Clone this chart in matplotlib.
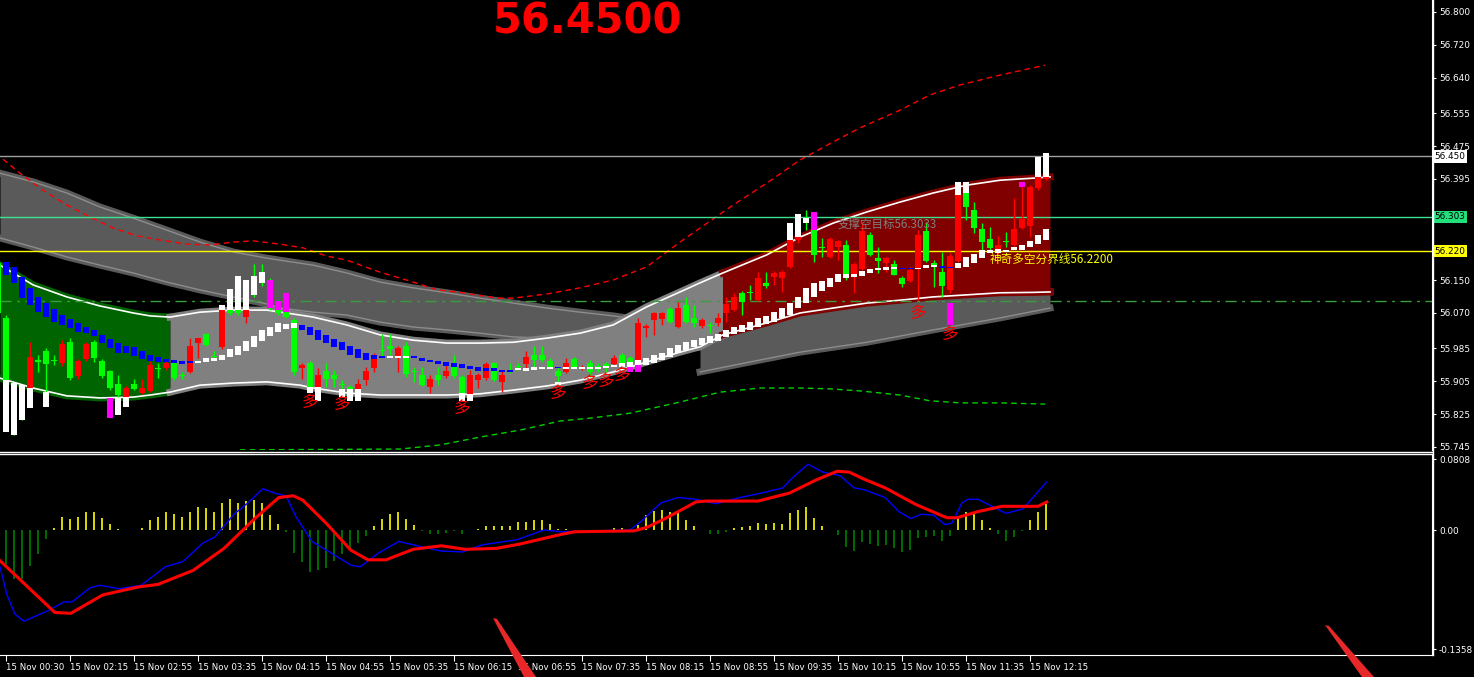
import matplotlib
matplotlib.use("Agg")
import matplotlib.pyplot as plt
import numpy as np
from matplotlib.lines import Line2D
from matplotlib.patches import Polygon

plt.rcParams['font.family'] = ['Noto Sans CJK SC', 'DejaVu Sans']

W, H = 1474, 677

# ---- price candles (5 min bars, index -1 .. 130) ----
bars = list(range(-1, 131))
opens = [56.191, 56.058, 55.888, 55.883, 55.888, 55.956, 55.978, 55.956, 55.949, 55.999,
         55.917, 55.958, 55.999, 55.954, 55.929, 55.898, 55.866, 55.898, 55.876, 55.881,
         55.937, 55.937, 55.949, 55.920, 55.927, 55.997, 56.019, 55.966, 55.988, 56.077,
         56.077, 56.060, 56.126, 56.162, 56.101, 56.077, 56.072, 56.053, 55.937, 55.949,
         55.891, 55.929, 55.920, 55.898, 55.891, 55.886, 55.907, 55.937, 55.980, 55.990,
         55.963, 55.990, 55.929, 55.920, 55.891, 55.920, 55.917, 55.939, 55.915, 55.874,
         55.907, 55.912, 55.949, 55.903, 55.932, 55.941, 55.946, 55.968, 55.968, 55.954,
         55.929, 55.927, 55.958, 55.934, 55.949, 55.941, 55.946, 55.946, 55.968, 55.961,
         55.951, 56.034, 56.053, 56.055, 56.080, 56.036, 56.089, 56.058, 56.038, 56.041,
         56.046, 56.070, 56.077, 56.119, 56.121, 56.101, 56.143, 56.157, 56.155, 56.182,
         56.247, 56.295, 56.271, 56.230, 56.206, 56.230, 56.235, 56.157, 56.177, 56.259,
         56.203, 56.191, 56.189, 56.155, 56.148, 56.179, 56.269, 56.191, 56.169, 56.126,
         56.196, 56.361, 56.320, 56.274, 56.249, 56.215, 56.245, 56.235, 56.276, 56.281,
         56.373, 56.395]
highs = [56.203, 56.065, 55.900, 55.895, 55.999, 55.968, 55.985, 55.968, 56.004, 56.009,
         55.958, 55.999, 56.004, 55.958, 55.932, 55.920, 55.893, 55.910, 55.910, 55.954,
         55.949, 55.954, 55.951, 55.927, 56.009, 56.009, 56.021, 55.978, 56.089, 56.082,
         56.082, 56.082, 56.189, 56.189, 56.155, 56.101, 56.119, 56.058, 55.949, 55.954,
         55.937, 55.949, 55.932, 55.907, 55.895, 55.910, 55.939, 55.973, 56.019, 56.019,
         55.990, 55.999, 55.939, 55.939, 55.920, 55.939, 55.951, 55.968, 55.920, 55.932,
         55.924, 55.951, 55.951, 55.929, 55.949, 55.949, 55.978, 55.990, 55.990, 55.961,
         55.939, 55.961, 55.963, 55.944, 55.956, 55.949, 55.951, 55.968, 55.973, 55.966,
         56.058, 56.043, 56.072, 56.072, 56.085, 56.097, 56.109, 56.089, 56.058, 56.048,
         56.070, 56.109, 56.119, 56.123, 56.138, 56.169, 56.169, 56.172, 56.174, 56.288,
         56.310, 56.320, 56.315, 56.252, 56.254, 56.247, 56.247, 56.194, 56.291, 56.266,
         56.230, 56.206, 56.198, 56.160, 56.182, 56.271, 56.291, 56.198, 56.218, 56.215,
         56.388, 56.388, 56.339, 56.288, 56.279, 56.257, 56.266, 56.349, 56.376, 56.380,
         56.448, 56.458]
lows = [56.058, 55.903, 55.774, 55.810, 55.878, 55.927, 55.878, 55.944, 55.941, 55.907,
        55.910, 55.954, 55.951, 55.912, 55.883, 55.866, 55.861, 55.883, 55.874, 55.878,
        55.912, 55.932, 55.907, 55.910, 55.924, 55.961, 55.990, 55.961, 55.983, 56.065,
        56.065, 56.046, 56.109, 56.136, 56.077, 56.065, 56.058, 55.920, 55.910, 55.886,
        55.886, 55.891, 55.891, 55.886, 55.883, 55.883, 55.895, 55.927, 55.963, 55.968,
        55.927, 55.915, 55.903, 55.893, 55.876, 55.895, 55.912, 55.912, 55.874, 55.871,
        55.888, 55.907, 55.905, 55.878, 55.924, 55.932, 55.937, 55.937, 55.951, 55.939,
        55.903, 55.924, 55.937, 55.932, 55.915, 55.927, 55.927, 55.944, 55.944, 55.941,
        55.949, 56.012, 56.017, 56.041, 56.046, 56.034, 56.046, 56.036, 56.034, 56.021,
        56.038, 56.048, 56.075, 56.065, 56.101, 56.099, 56.131, 56.138, 56.121, 56.179,
        56.240, 56.271, 56.194, 56.206, 56.203, 56.198, 56.150, 56.119, 56.174, 56.208,
        56.167, 56.169, 56.162, 56.133, 56.145, 56.101, 56.194, 56.133, 56.109, 56.119,
        56.194, 56.295, 56.264, 56.218, 56.218, 56.213, 56.230, 56.232, 56.274, 56.254,
        56.368, 56.392]
closes = [56.070, 55.907, 55.786, 55.823, 55.963, 55.951, 55.946, 55.954, 55.995, 55.912,
          55.954, 55.995, 55.961, 55.917, 55.888, 55.871, 55.888, 55.886, 55.888, 55.944,
          55.934, 55.949, 55.912, 55.917, 55.990, 56.009, 55.992, 55.963, 56.077, 56.070,
          56.070, 56.077, 56.114, 56.150, 56.089, 56.070, 56.060, 55.927, 55.944, 55.891,
          55.920, 55.910, 55.910, 55.895, 55.886, 55.898, 55.929, 55.968, 55.978, 55.983,
          55.985, 55.922, 55.927, 55.895, 55.910, 55.907, 55.929, 55.917, 55.876, 55.920,
          55.920, 55.946, 55.907, 55.920, 55.929, 55.939, 55.963, 55.956, 55.956, 55.939,
          55.917, 55.949, 55.939, 55.939, 55.927, 55.939, 55.939, 55.961, 55.946, 55.944,
          56.046, 56.038, 56.070, 56.070, 56.048, 56.082, 56.048, 56.046, 56.053, 56.038,
          56.058, 56.092, 56.109, 56.097, 56.119, 56.155, 56.136, 56.167, 56.169, 56.247,
          56.254, 56.291, 56.211, 56.228, 56.249, 56.245, 56.155, 56.189, 56.269, 56.211,
          56.196, 56.203, 56.162, 56.140, 56.174, 56.259, 56.196, 56.182, 56.136, 56.208,
          56.356, 56.327, 56.276, 56.242, 56.228, 56.235, 56.242, 56.274, 56.298, 56.376,
          56.400, 56.400]

# candle parts drawn white / magenta outside the channel
ext_bar = [0, 1, 2, 3, 5, 13, 14, 15, 27, 28, 29, 30, 31, 32, 33, 34, 35, 38, 39, 42, 43, 44,
           57, 58, 69, 78, 79, 98, 99, 100, 101, 118, 119, 120, 127, 129, 130]
ext_lo = [55.781, 55.774, 55.810, 55.840, 55.842, 55.815, 55.823, 55.842, 56.077, 56.077,
          56.077, 56.077, 56.114, 56.143, 56.082, 56.077, 56.072, 55.876, 55.857, 55.866,
          55.857, 55.857, 55.857, 55.857, 55.895, 55.927, 55.927, 56.247, 56.254, 56.288,
          56.271, 56.041, 56.356, 56.361, 56.376, 56.400, 56.400]
ext_hi = [55.907, 55.900, 55.895, 55.888, 55.878, 55.864, 55.864, 55.866, 56.089, 56.128,
          56.160, 56.150, 56.160, 56.169, 56.150, 56.099, 56.119, 55.891, 55.891, 55.886,
          55.886, 55.886, 55.876, 55.874, 55.903, 55.944, 55.951, 56.288, 56.310, 56.300,
          56.315, 56.094, 56.388, 56.388, 56.388, 56.448, 56.458]
ext_kind = ['W', 'W', 'W', 'W', 'W', 'M', 'W', 'W', 'W', 'W', 'W', 'W', 'W', 'W', 'M', 'M', 'M',
            'W', 'W', 'W', 'W', 'W', 'W', 'W', 'W', 'M', 'M', 'W', 'W', 'W', 'M', 'M', 'W', 'W',
            'M', 'W', 'W']

# trailing step boxes (bars 0 .. 130)
box_hi = [56.194, 56.182, 56.157, 56.131, 56.109, 56.094, 56.080, 56.065, 56.055, 56.046,
          56.036, 56.029, 56.017, 56.007, 55.997, 55.990, 55.988, 55.978, 55.968, 55.963,
          55.958, 55.956, 55.954, 55.954, 55.954, 55.961, 55.961, 55.968, 55.983, 55.990,
          56.002, 56.014, 56.029, 56.036, 56.046, 56.043, 56.046, 56.041, 56.036, 56.029,
          56.017, 56.007, 55.999, 55.990, 55.983, 55.973, 55.968, 55.966, 55.966, 55.966,
          55.966, 55.966, 55.961, 55.956, 55.954, 55.951, 55.949, 55.946, 55.941, 55.939,
          55.937, 55.937, 55.932, 55.932, 55.937, 55.937, 55.939, 55.939, 55.939, 55.939,
          55.939, 55.939, 55.939, 55.939, 55.939, 55.941, 55.944, 55.949, 55.951, 55.956,
          55.961, 55.968, 55.973, 55.985, 55.992, 55.999, 56.004, 56.009, 56.014, 56.019,
          56.029, 56.036, 56.041, 56.048, 56.058, 56.063, 56.072, 56.082, 56.094, 56.109,
          56.131, 56.143, 56.148, 56.155, 56.165, 56.165, 56.165, 56.172, 56.177, 56.179,
          56.182, 56.182, 56.179, 56.179, 56.179, 56.186, 56.186, 56.184, 56.182, 56.191,
          56.206, 56.213, 56.223, 56.223, 56.225, 56.223, 56.230, 56.235, 56.245, 56.259,
          56.274]
box_lo = [56.162, 56.143, 56.106, 56.089, 56.072, 56.060, 56.048, 56.041, 56.034, 56.024,
          56.021, 56.014, 55.997, 55.985, 55.973, 55.973, 55.966, 55.958, 55.954, 55.951,
          55.951, 55.949, 55.946, 55.949, 55.949, 55.951, 55.954, 55.956, 55.963, 55.968,
          55.978, 55.988, 56.002, 56.014, 56.024, 56.031, 56.034, 56.029, 56.017, 56.004,
          55.997, 55.988, 55.980, 55.968, 55.961, 55.956, 55.958, 55.961, 55.961, 55.961,
          55.961, 55.961, 55.954, 55.951, 55.946, 55.941, 55.939, 55.937, 55.934, 55.929,
          55.929, 55.929, 55.927, 55.927, 55.932, 55.929, 55.932, 55.934, 55.934, 55.937,
          55.934, 55.934, 55.934, 55.934, 55.934, 55.937, 55.939, 55.939, 55.939, 55.944,
          55.944, 55.949, 55.956, 55.963, 55.973, 55.980, 55.988, 55.992, 55.997, 56.002,
          56.012, 56.019, 56.024, 56.029, 56.036, 56.043, 56.048, 56.058, 56.065, 56.082,
          56.094, 56.109, 56.123, 56.133, 56.145, 56.155, 56.157, 56.160, 56.167, 56.174,
          56.174, 56.177, 56.177, 56.177, 56.177, 56.179, 56.182, 56.179, 56.179, 56.179,
          56.182, 56.191, 56.203, 56.215, 56.215, 56.218, 56.223, 56.223, 56.230, 56.237,
          56.247]
box_kind = list('BBBBBBBBBBBBBBBBBBBBBBBB' 'WWWWWWWWWWWWW' 'BBBBBBBBBBB' 'WWW' 'BBBBBBBBBBBBB'
                'WWWWW' 'B' 'WWWWWWWWWWWWWWWWWWWWWWWWWWWWWWWWWWWWWWWWWW' 'BB' 'WWW' 'BB'
                'WWWWWWWWWWWW')

# channel (green / gray / dark red), knots in bar units
band_x = [-0.75, 3.4, 7.6, 11.75, 15.9, 18, 20.5, 24.25, 28.4, 32.6, 36.75, 38.4, 42.6, 46.75,
          50.9, 55.1, 59.25, 63.4, 67.6, 71.75, 75.9, 80.1, 84.25, 86.75, 89.6, 95.1, 99.25,
          103.4, 107.6, 111.75, 115.9, 120.1, 124.25, 128.4, 130.5]
band_up = [56.186, 56.138, 56.109, 56.087, 56.070, 56.063, 56.060, 56.072, 56.077, 56.077,
           56.065, 56.060, 56.041, 56.017, 56.004, 55.997, 55.997, 55.999, 56.009, 56.021,
           56.041, 56.085, 56.121, 56.143, 56.167, 56.211, 56.254, 56.288, 56.315, 56.339,
           56.361, 56.380, 56.392, 56.397, 56.400]
band_lo = [55.912, 55.888, 55.869, 55.864, 55.866, 55.871, 55.878, 55.895, 55.900, 55.903,
           55.895, 55.888, 55.876, 55.871, 55.871, 55.871, 55.874, 55.883, 55.893, 55.907,
           55.927, 55.951, 55.975, 55.988, 56.017, 56.046, 56.070, 56.082, 56.094, 56.101,
           56.109, 56.114, 56.119, 56.120, 56.121]

# dark gray resistance band (left) and support band (right)
dark_x = [-0.75, 3.4, 7.6, 11.75, 15.9, 20.1, 24.25, 28.4, 32.6, 34.25, 38.4, 42.6, 46.75, 50.9,
          55.1, 59.25, 63.4, 67.6, 71.75, 75.9, 79.25]
dark_up = [56.409, 56.388, 56.361, 56.327, 56.300, 56.271, 56.242, 56.218, 56.203, 56.198,
           56.186, 56.167, 56.145, 56.131, 56.119, 56.106, 56.094, 56.082, 56.072, 56.063, 56.053]
dark_lo = [56.252, 56.230, 56.206, 56.186, 56.167, 56.145, 56.126, 56.109, 56.092, 56.082,
           56.072, 56.065, 56.048, 56.036, 56.029, 56.021, 56.012, 56.009, 56.007, 56.007, 56.007]
dark2_x = [86.75, 94.25, 99.25, 107.6, 115.9, 124.25, 130.5]
dark2_up = [55.988, 56.041, 56.070, 56.094, 56.109, 56.119, 56.121]
dark2_lo = [55.927, 55.956, 55.975, 55.999, 56.029, 56.058, 56.082]

# dotted envelope lines
red_x = [-0.375, 1.75, 4.6, 7.6, 10.5, 13.4, 16.4, 19.25, 22.6, 25.5, 28.4, 30.9, 34.25, 37.1,
         40.1, 42.6, 46.75, 50.9, 53.9, 57.1, 61.4, 63.4, 67.6, 71.75, 75.9, 80.1, 84.25, 86.75,
         90.9, 95.1, 99.25, 103.4, 106.75, 111.75, 115.5, 119.25, 124.25, 129.9]
red_y = [56.443, 56.409, 56.368, 56.332, 56.303, 56.276, 56.257, 56.247, 56.237, 56.235, 56.242,
         56.245, 56.237, 56.228, 56.208, 56.198, 56.169, 56.145, 56.126, 56.119, 56.106, 56.106,
         56.116, 56.131, 56.150, 56.182, 56.242, 56.276, 56.332, 56.385, 56.441, 56.485, 56.519,
         56.562, 56.599, 56.623, 56.647, 56.671]
grn_x = [29.25, 49.25, 54.25, 59.25, 64.25, 69.25, 73, 78, 84.25, 86.75, 89.25, 94.25, 99.25,
         103, 106.75, 111.75, 115.5, 119.25, 124.25, 129.9]
grn_y = [55.738, 55.740, 55.750, 55.769, 55.786, 55.808, 55.815, 55.827, 55.854, 55.866, 55.878,
         55.888, 55.888, 55.886, 55.881, 55.871, 55.857, 55.852, 55.852, 55.849]

# buy signals
duo_bar = [38, 42, 57, 69, 73, 75, 77, 114, 118]
duo_y = [55.852, 55.848, 55.838, 55.876, 55.900, 55.905, 55.918, 56.068, 56.019]

price_ticks = [56.800, 56.720, 56.640, 56.555, 56.475, 56.395, 56.150, 56.070,
               55.985, 55.905, 55.825, 55.745]

# ---- MACD panel ----
hist = [-0.041, -0.056, -0.056, -0.041, -0.027, -0.010, 0.002, 0.015, 0.013, 0.015,
        0.021, 0.021, 0.014, 0.007, 0.001, 0.0, 0.0, 0.002, 0.011, 0.015,
        0.020, 0.018, 0.015, 0.021, 0.026, 0.025, 0.021, 0.031, 0.035, 0.031,
        0.033, 0.034, 0.031, 0.017, 0.007, -0.002, -0.026, -0.037, -0.048, -0.046,
        -0.043, -0.035, -0.027, -0.021, -0.015, -0.007, 0.004, 0.013, 0.018, 0.020,
        0.012, 0.006, -0.001, -0.005, -0.005, -0.003, -0.001, -0.004, 0.0, 0.001,
        0.005, 0.004, 0.004, 0.005, 0.009, 0.009, 0.011, 0.011, 0.007, 0.001,
        0.001, 0.0, 0.0, 0.0, 0.0, 0.0, 0.002, 0.002, 0.0, 0.006,
        0.017, 0.022, 0.023, 0.020, 0.019, 0.011, 0.004, 0.0, -0.004, -0.004,
        -0.002, 0.002, 0.003, 0.004, 0.008, 0.007, 0.008, 0.007, 0.019, 0.023,
        0.026, 0.014, 0.004, 0.0, -0.006, -0.019, -0.024, -0.014, -0.016, -0.018,
        -0.017, -0.020, -0.025, -0.023, -0.009, -0.008, -0.007, -0.013, -0.007, 0.016,
        0.021, 0.018, 0.011, 0.002, -0.005, -0.012, -0.008, -0.001, 0.011, 0.020, 0.030]
macd_x = [-0.75, 0.125, 1.125, 2.25, 5.25, 7.25, 8.25, 10.5, 11.75, 14.1, 16.9, 19.9, 22.1, 24.6,
          26.1, 28.5, 30.25, 32.1, 33.6, 35, 36.25, 38.25, 40.6, 43.1, 44.25, 46.6, 49.1, 51.4,
          54.4, 57.1, 59.5, 63.9, 67.25, 69.4, 78, 79.4, 81.9, 84, 86.25, 88.75, 91.75, 94.4,
          97.1, 98.25, 100.25, 102.1, 104.25, 106, 107.25, 109.9, 111.6, 113.1, 114.4, 115.9,
          117.4, 118.25, 119.5, 120.25, 121.5, 125, 127.1, 130.1]
macd_y = [-0.042, -0.074, -0.096, -0.104, -0.092, -0.082, -0.082, -0.066, -0.063, -0.067, -0.063,
          -0.042, -0.036, -0.015, -0.008, 0.018, 0.031, 0.047, 0.042, 0.039, 0.015, -0.013,
          -0.026, -0.040, -0.042, -0.026, -0.013, -0.018, -0.024, -0.025, -0.017, -0.011, 0.0,
          -0.002, 0.0, 0.010, 0.031, 0.037, 0.035, 0.030, 0.037, 0.042, 0.048, 0.059, 0.075,
          0.066, 0.062, 0.048, 0.046, 0.037, 0.021, 0.013, 0.018, 0.017, 0.006, 0.008, 0.031,
          0.035, 0.035, 0.019, 0.024, 0.055]
sig_x = [-0.75, 6.1, 8.1, 12.1, 16.5, 19, 23.4, 27.25, 31.1, 34.1, 35.9, 37.1, 40.1, 43.1, 45.25,
         47.5, 50.9, 54.4, 57.4, 61.25, 64.25, 69.4, 71.1, 78.5, 80.1, 82.4, 86.25, 87.5, 94,
         97.9, 101.25, 103.9, 105.4, 107.25, 109.9, 113.75, 117.6, 118.9, 121.5, 124.5, 129, 130.1]
sig_y = [-0.035, -0.094, -0.095, -0.074, -0.065, -0.062, -0.046, -0.021, 0.013, 0.037, 0.039,
         0.034, 0.007, -0.023, -0.034, -0.034, -0.022, -0.018, -0.022, -0.021, -0.016, -0.005,
         -0.002, -0.001, 0.003, 0.013, 0.032, 0.033, 0.033, 0.042, 0.057, 0.067, 0.066, 0.058,
         0.048, 0.029, 0.014, 0.014, 0.021, 0.027, 0.027, 0.032]

time_labels = ['15 Nov 00:30', '15 Nov 02:15', '15 Nov 02:55', '15 Nov 03:35', '15 Nov 04:15',
               '15 Nov 04:55', '15 Nov 05:35', '15 Nov 06:15', '15 Nov 06:55', '15 Nov 07:35',
               '15 Nov 08:15', '15 Nov 08:55', '15 Nov 09:35', '15 Nov 10:15', '15 Nov 10:55',
               '15 Nov 11:35', '15 Nov 12:15']


def fx(x):
    return x / W


def fy(y):
    return 1 - y / H


fig = plt.figure(figsize=(W / 100, H / 100), dpi=100, facecolor='black')
ax = fig.add_axes([0, fy(450), fx(1432), 450 / H])
ax2 = fig.add_axes([0, fy(655), fx(1432), 200 / H])

for a in (ax, ax2):
    a.set_facecolor('black')
    for s in a.spines.values():
        s.set_visible(False)
    a.spines['right'].set_visible(True)
    a.spines['right'].set_color('white')
    a.set_xlim(-0.75, 178.25)
    a.yaxis.tick_right()
    a.tick_params(axis='y', colors='white', labelsize=6.4, length=3, pad=2)

ax.set_ylim(55.7377, 56.8291)
ax.set_xticks([])

# dark gray bands
for xs, u, l in [(dark_x, dark_up, dark_lo), (dark2_x, dark2_up, dark2_lo)]:
    ax.fill_between(xs, l, u, color='#5a5a5a', lw=0, zorder=1)
    ax.plot(xs, u, color='#5a5a5a', lw=5, zorder=1)
    ax.plot(xs, l, color='#5a5a5a', lw=5, zorder=1)
    ax.plot(xs, u, color='#8c8c8c', lw=1, zorder=1.5)
    ax.plot(xs, l, color='#8c8c8c', lw=1, zorder=1.5)

# main channel
bx = np.array(band_x)
bu = np.array(band_up)
bl = np.array(band_lo)
for a0, a1, c in [(-1, 20.5, '#006400'), (20.5, 89.6, '#808080'), (89.6, 131, '#800000')]:
    m = (bx >= a0) & (bx <= a1)
    ax.fill_between(bx[m], bl[m], bu[m], color=c, lw=0, zorder=2)
    ax.plot(bx[m], bu[m], color=c, lw=5, zorder=2)
    ax.plot(bx[m], bl[m], color=c, lw=5, zorder=2)
ax.plot(bx, bu, color='white', lw=1.2, zorder=3)
ax.plot(bx, bl, color='white', lw=1.2, zorder=3)

ax.plot(red_x, red_y, color='#ff0000', lw=1, ls=(0, (4, 3)), zorder=3)
ax.plot(grn_x, grn_y, color='#00d000', lw=1, ls=(0, (4, 3)), zorder=3)

# horizontal levels
ax.axhline(56.450, color='#a0a0a0', lw=1, zorder=3.5)
ax.axhline(56.303, color='#40e090', lw=1, zorder=3.5)
ax.axhline(56.220, color='#ffff00', lw=1, zorder=3.5)
ax.axhline(56.099, color='#3c9c3c', lw=1, ls=(0, (8, 4, 2, 4)), zorder=3.5)

# candles
o = np.array(opens)
c = np.array(closes)
cols = np.where(c > o, '#ff0000', '#00ff00')
ax.vlines(bars, lows, highs, colors=cols, lw=1, zorder=5)
ax.bar(bars, np.maximum(np.abs(c - o), 0.0025), bottom=np.minimum(o, c), width=0.68,
       color=cols, lw=0, zorder=6)

ecol = ['white' if k == 'W' else '#ff00ff' for k in ext_kind]
ax.bar(ext_bar, np.array(ext_hi) - np.array(ext_lo), bottom=ext_lo, width=0.68,
       color=ecol, lw=0, zorder=7)

bcol = ['white' if k == 'W' else '#0000ff' for k in box_kind]
ax.bar(list(range(0, 131)), np.array(box_hi) - np.array(box_lo), bottom=box_lo, width=0.68,
       color=bcol, lw=0, zorder=7)

for b, y in zip(duo_bar, duo_y):
    ax.text(b, y, '多', color='#ff0000', fontsize=12, ha='center', va='center', zorder=8)

ax.text(104, 56.286, '支撑空目标56.3033', color='#808080', fontsize=8.3, ha='left',
        va='center', zorder=8)
ax.text(122.9, 56.201, '神奇多空分界线56.2200', color='#ffff00', fontsize=8.4, ha='left',
        va='center', zorder=8)

ax.set_yticks(price_ticks)
ax.set_yticklabels([f'{v:.3f}' for v in price_ticks], family='DejaVu Sans')

ytr = ax.get_yaxis_transform()
for val, fc in [(56.450, 'white'), (56.303, '#22e07a'), (56.220, '#ffff00')]:
    ax.text(1.0 + 2.5 / 1432, val, f'{val:.3f}', transform=ytr, fontsize=6.4, color='black',
            family='DejaVu Sans', ha='left', va='center', clip_on=False, zorder=10,
            bbox=dict(boxstyle='square,pad=0.2', fc=fc, ec='none'))

# MACD panel
ax2.set_ylim(-0.1425, 0.0855)
hcol = ['#ffff00' if v > 0 else '#008000' for v in hist]
ax2.vlines(list(range(0, 131)), 0, hist, colors=hcol, lw=1.2)
ax2.plot(macd_x, macd_y, color='#0000ff', lw=1)
ax2.plot(sig_x, sig_y, color='#ff0000', lw=2.2)
ax2.set_yticks([0.0808, 0.0, -0.1358])
ax2.set_yticklabels(['0.0808', '0.00', '-0.1358'], family='DejaVu Sans')
ax2.spines['bottom'].set_visible(True)
ax2.spines['bottom'].set_color('white')
ax2.set_xticks(list(range(0, 129, 8)))
ax2.set_xticklabels(time_labels, family='DejaVu Sans', ha='left')
ax2.tick_params(axis='x', colors='white', labelsize=6.2, length=4, pad=2)

# panel separator and right border
fig.add_artist(Line2D([0, fx(1432)], [fy(451.5), fy(451.5)], color='white', lw=1))
fig.add_artist(Line2D([0, fx(1432)], [fy(454), fy(454)], color='white', lw=1))
fig.add_artist(Line2D([fx(1432.5), fx(1432.5)], [fy(0), fy(655)], color='white', lw=1))

# red pointer streaks
for pts in ([(493, 618), (497, 619), (536, 677), (524, 677)],
            [(1325, 625), (1329, 626), (1374, 677), (1362, 677)]):
    fig.add_artist(Polygon([(fx(x), fy(y)) for x, y in pts], closed=True, fc='#e82828',
                           ec='none', transform=fig.transFigure))

fig.text(fx(588), fy(33), '56.4500', color='#ff0000', fontsize=30, fontweight='bold',
         family='DejaVu Sans', ha='center', va='baseline')

fig.savefig('out.png', dpi=100, facecolor='black')
